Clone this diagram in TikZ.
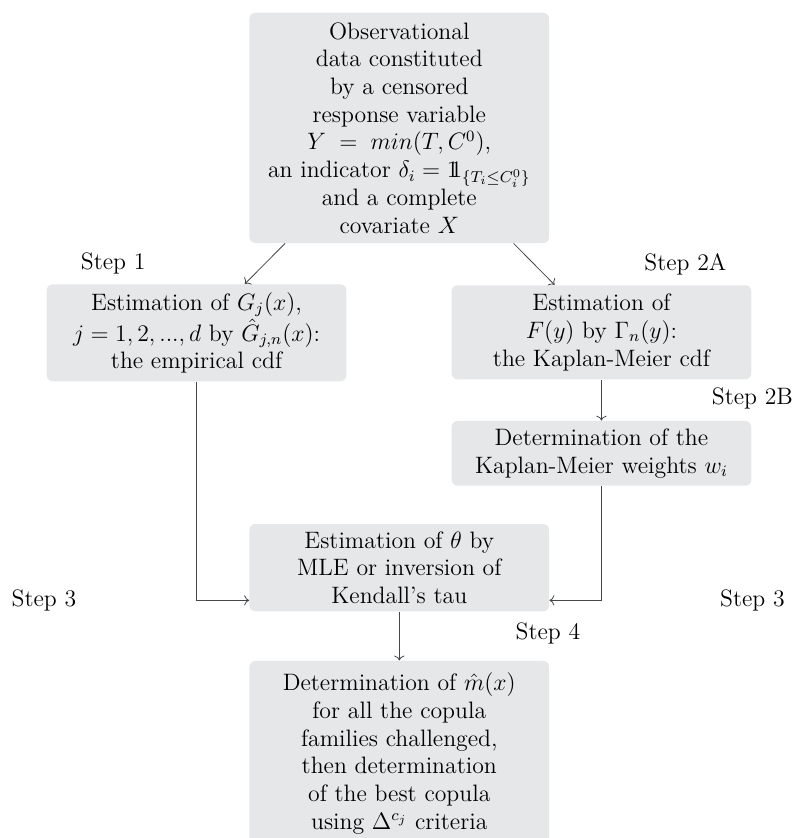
\documentclass[tikz,border=0pt]{standalone}
\usepackage{amsmath, amssymb}
\usepackage{tikz}
\usetikzlibrary{arrows.meta, positioning, calc}
\definecolor{boxgray}{RGB}{230,231,233}
\definecolor{linegray}{RGB}{70,70,70}
\newcommand{\indicone}{\mathrm{1\!\!1}}

\begin{document}
\begin{tikzpicture}[
    box/.style={
        rectangle,
        fill=boxgray,
        rounded corners=3pt,
        align=center,
        minimum width=5.32cm,
        inner sep=2pt,
        font=\fontsize{12}{14}\selectfont
    },
    steplabel/.style={
        font=\fontsize{12}{14}\selectfont
    },
    arrow/.style={->, linegray, thin}
]
\useasboundingbox (0,0) rectangle (14.14,-14.88);

% --- top ---
\node[box, minimum height=4.09cm] (obs) at (7.09,-2.27)
{Observational\\data constituted\\by a censored\\response variable\\
$Y\;=\;min(T,C^0)$,\\an indicator $\delta_i=\indicone_{\{T_i\leq C_i^0\}}$\\
and a complete\\covariate $X$};

% --- left branch ---
\node[box, minimum height=1.72cm] (est1) at (3.49,-5.91)
{Estimation of $G_j(x)$,\\$j=1,2,...,d$ by $\hat{G}_{j,n}(x)$:\\the empirical cdf};

% --- right branch ---
\node[box, minimum height=1.67cm] (km)  at (10.68,-5.90)
{Estimation of\\$F(y)$ by $\Gamma_n(y)$:\\the Kaplan-Meier cdf};
\node[box, minimum height=1.15cm] (wts) at (10.68,-8.05)
{Determination of the\\Kaplan-Meier weights $w_i$};

% --- bottom ---
\node[box, minimum height=1.55cm] (theta) at (7.09,-10.08)
{Estimation of $\theta$ by\\MLE or inversion of\\Kendall's tau};
\node[box, minimum height=3.29cm] (final) at (7.09,-13.38)
{Determination of $\hat{m}(x)$\\for all the copula\\families challenged,\\then determination\\of the best copula\\using $\Delta^{c_j}$ criteria};

% --- step labels ---
\node[steplabel] (s1)  at (2.01,-4.67)  {Step 1};
\node[steplabel] (s2a) at (12.17,-4.69) {Step 2A};
\node[steplabel] (s2b) at (13.36,-7.07) {Step 2B};
\node[steplabel] (s3l) at (0.78,-10.66) {Step 3};
\node[steplabel] (s3r) at (13.36,-10.66) {Step 3};
\node[steplabel] (s4)  at (9.73,-11.24) {Step 4};

% ============================================================
%  arrows
% ============================================================
\draw[arrow] (obs) -- (est1);
\draw[arrow] (obs) -- (km);
\draw[arrow] (km) -- (wts);
\draw[arrow] (est1.south) |- (theta.west |- s3l);
\draw[arrow] (wts.south) |- (theta.east |- s3r);
\draw[arrow] (theta) -- (final);

\end{tikzpicture}
\end{document}
